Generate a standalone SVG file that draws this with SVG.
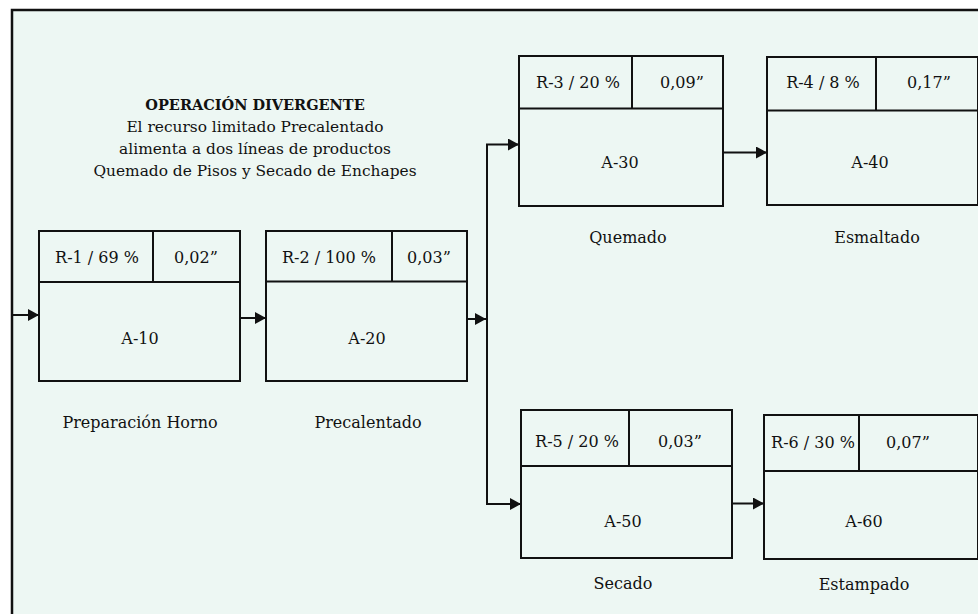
<svg xmlns="http://www.w3.org/2000/svg" width="978" height="614" viewBox="0 0 978 614">
  <style>
    text { font-family: "DejaVu Serif", "Liberation Serif", serif; font-size: 16px; fill: #111; text-anchor: middle; }
    .title { font-weight: bold; font-size: 14.5px; }
    .sub { font-size: 15.4px; }
    .box { fill: none; stroke: #111; stroke-width: 2; }
    .div { stroke: #111; stroke-width: 2; fill: none; }
    .conn { stroke: #111; stroke-width: 2; fill: none; }
  </style>
  <defs>
    <marker id="arrow" viewBox="0 0 11 12" refX="11" refY="6" markerWidth="11" markerHeight="12" markerUnits="userSpaceOnUse" orient="auto">
      <path d="M0,0 L11,6 L0,12 Z" fill="#111"/>
    </marker>
  </defs>

  <!-- page -->
  <rect x="0" y="0" width="978" height="614" fill="#ffffff"/>
  <rect x="12" y="10" width="980" height="620" fill="#EDF7F3" stroke="#111" stroke-width="2.5"/>

  <!-- heading -->
  <g id="heading">
    <text class="title" x="255" y="110">OPERACIÓN DIVERGENTE</text>
    <text class="sub" x="255" y="132">El recurso limitado Precalentado</text>
    <text class="sub" x="255" y="154">alimenta a dos líneas de productos</text>
    <text class="sub" x="255" y="176">Quemado de Pisos y Secado de Enchapes</text>
  </g>

  <!-- connectors -->
  <g id="connectors">
    <line class="conn" x1="12" y1="315" x2="39" y2="315" marker-end="url(#arrow)"/>
    <line class="conn" x1="240" y1="318" x2="266" y2="318" marker-end="url(#arrow)"/>
    <line class="conn" x1="467" y1="319" x2="486" y2="319" marker-end="url(#arrow)"/>
    <polyline class="conn" points="487,144.5 487,504 521,504" marker-end="url(#arrow)"/>
    <line class="conn" x1="486" y1="144.5" x2="519" y2="144.5" marker-end="url(#arrow)"/>
    <line class="conn" x1="723" y1="152.5" x2="767" y2="152.5" marker-end="url(#arrow)"/>
    <line class="conn" x1="732" y1="503.5" x2="764" y2="503.5" marker-end="url(#arrow)"/>
  </g>

  <!-- A-10 -->
  <g id="node-a10">
    <rect class="box" x="39" y="231" width="201" height="150"/>
    <line class="div" x1="39" y1="282" x2="240" y2="282"/>
    <line class="div" x1="153" y1="231" x2="153" y2="282"/>
    <text x="97" y="263">R-1 / 69 %</text>
    <text x="196" y="263">0,02”</text>
    <text x="140" y="344">A-10</text>
    <text x="140" y="428">Preparación Horno</text>
  </g>

  <!-- A-20 -->
  <g id="node-a20">
    <rect class="box" x="266" y="231" width="201" height="150"/>
    <line class="div" x1="266" y1="281.5" x2="467" y2="281.5"/>
    <line class="div" x1="392" y1="231" x2="392" y2="281.5"/>
    <text x="329" y="263">R-2 / 100 %</text>
    <text x="429" y="263">0,03”</text>
    <text x="367" y="344">A-20</text>
    <text x="368" y="428">Precalentado</text>
  </g>

  <!-- A-30 -->
  <g id="node-a30">
    <rect class="box" x="519" y="56" width="204" height="150"/>
    <line class="div" x1="519" y1="108.5" x2="723" y2="108.5"/>
    <line class="div" x1="632" y1="56" x2="632" y2="108.5"/>
    <text x="578" y="88">R-3 / 20 %</text>
    <text x="682" y="88">0,09”</text>
    <text x="620" y="168">A-30</text>
    <text x="628" y="243">Quemado</text>
  </g>

  <!-- A-40 -->
  <g id="node-a40">
    <rect class="box" x="767" y="57" width="211" height="148"/>
    <line class="div" x1="767" y1="110.5" x2="978" y2="110.5"/>
    <line class="div" x1="876" y1="57" x2="876" y2="110.5"/>
    <text x="823" y="88">R-4 / 8 %</text>
    <text x="929" y="88">0,17”</text>
    <text x="870" y="168">A-40</text>
    <text x="877" y="243">Esmaltado</text>
  </g>

  <!-- A-50 -->
  <g id="node-a50">
    <rect class="box" x="521" y="410" width="211" height="148"/>
    <line class="div" x1="521" y1="466" x2="732" y2="466"/>
    <line class="div" x1="629" y1="410" x2="629" y2="466"/>
    <text x="577" y="447">R-5 / 20 %</text>
    <text x="680" y="447">0,03”</text>
    <text x="623" y="527">A-50</text>
    <text x="623" y="589">Secado</text>
  </g>

  <!-- A-60 -->
  <g id="node-a60">
    <rect class="box" x="764" y="415" width="214" height="144"/>
    <line class="div" x1="764" y1="471" x2="978" y2="471"/>
    <line class="div" x1="859" y1="415" x2="859" y2="471"/>
    <text x="813" y="448">R-6 / 30 %</text>
    <text x="908" y="448">0,07”</text>
    <text x="864" y="527">A-60</text>
    <text x="864" y="590">Estampado</text>
  </g>
</svg>
